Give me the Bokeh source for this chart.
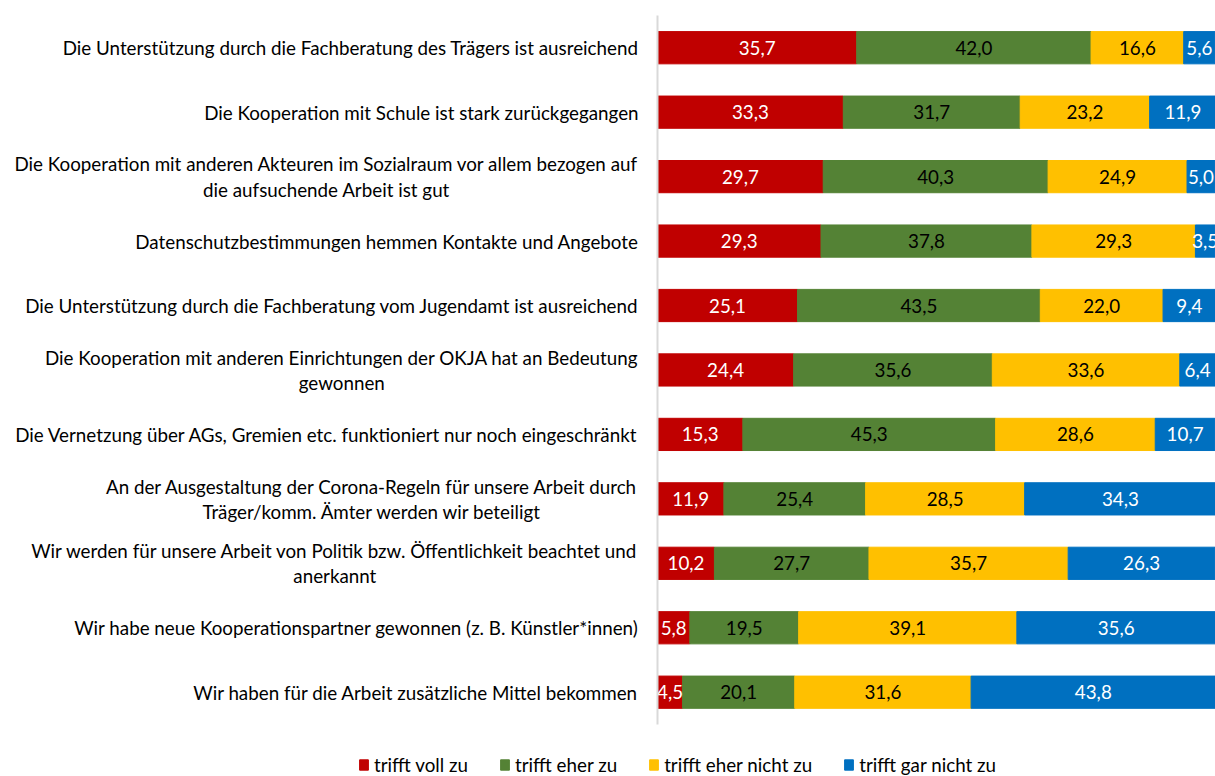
from bokeh.plotting import figure
from bokeh.models import ColumnDataSource, Range1d, Legend, LegendItem
from bokeh.core.properties import value
from bokeh.embed import file_html
from bokeh.resources import INLINE

categories = [
    "Die Unterstützung durch die Fachberatung des Trägers ist ausreichend",
    "Die Kooperation mit Schule ist stark zurückgegangen",
    "Die Kooperation mit anderen Akteuren im Sozialraum vor allem bezogen auf\ndie aufsuchende Arbeit ist gut",
    "Datenschutzbestimmungen hemmen Kontakte und Angebote",
    "Die Unterstützung durch die Fachberatung vom Jugendamt ist ausreichend",
    "Die Kooperation mit anderen Einrichtungen der OKJA hat an Bedeutung\ngewonnen",
    "Die Vernetzung über AGs, Gremien etc. funktioniert nur noch eingeschränkt",
    "An der Ausgestaltung der Corona-Regeln für unsere Arbeit durch\nTräger/komm. Ämter werden wir beteiligt",
    "Wir werden für unsere Arbeit von Politik bzw. Öffentlichkeit beachtet und\nanerkannt",
    "Wir habe neue Kooperationspartner gewonnen (z. B. Künstler*innen)",
    "Wir haben für die Arbeit zusätzliche Mittel bekommen",
]

series_names = ["trifft voll zu", "trifft eher zu", "trifft eher nicht zu", "trifft gar nicht zu"]

voll_zu = [35.7, 33.3, 29.7, 29.3, 25.1, 24.4, 15.3, 11.9, 10.2, 5.8, 4.5]
eher_zu = [42.0, 31.7, 40.3, 37.8, 43.5, 35.6, 45.3, 25.4, 27.7, 19.5, 20.1]
eher_nicht_zu = [16.6, 23.2, 24.9, 29.3, 22.0, 33.6, 28.6, 28.5, 35.7, 39.1, 31.6]
gar_nicht_zu = [5.6, 11.9, 5.0, 3.5, 9.4, 6.4, 10.7, 34.3, 26.3, 35.6, 43.8]

colors = ["#C00000", "#548235", "#FFC000", "#0070C0"]
label_colors = ["white", "black", "black", "white"]

FONT = "Lato"
FS = "18.8px"

n = len(categories)
pos = list(range(n))  # row index, 0 at top

keys = ["s0", "s1", "s2", "s3"]
data = {"pos": pos, "s0": voll_zu, "s1": eher_zu, "s2": eher_nicht_zu, "s3": gar_nicht_zu}
source = ColumnDataSource(data)

p = figure(
    width=1215, height=776,
    y_range=Range1d(n - 0.5 + 0.808, -0.5 - 0.2327),
    x_range=Range1d(-117.74, 100.0),
    x_axis_location=None, y_axis_location=None,
    output_backend="svg", toolbar_location=None, tools="",
    min_border=0,
)
p.outline_line_color = None
p.xgrid.visible = False
p.ygrid.visible = False

renderers = p.hbar_stack(keys, y="pos", height=0.5, color=colors, source=source)

# segment value labels
series_vals = [voll_zu, eher_zu, eher_nicht_zu, gar_nicht_zu]
cum = [0.0] * n
for si, vals in enumerate(series_vals):
    xs = [c + v / 2 for c, v in zip(cum, vals)]
    txt = [f"{v:.1f}".replace(".", ",") for v in vals]
    cum = [c + v for c, v in zip(cum, vals)]
    src = ColumnDataSource({"x": xs, "y": pos, "t": txt})
    p.text(x="x", y="y", text="t", source=src, text_align="center", text_baseline="middle",
           text_font=value(FONT), text_font_size=FS, text_color=label_colors[si])

# category labels: block anchored at its right edge, lines centred within the block
p.text(x=-3.4, y=pos, text=categories, anchor="center_right", text_align="center",
       text_baseline="middle", text_font=value(FONT), text_font_size=FS,
       text_color="black", text_line_height=1.1)

# vertical axis line over the category band
p.segment(x0=[0], y0=[-0.5], x1=[0], y1=[n - 0.5], line_color="#d9d9d9", line_width=2)

legend = Legend(
    items=[LegendItem(label=nm, renderers=[r]) for nm, r in zip(series_names, renderers)],
    orientation="horizontal", location=(358, 0),
    padding=0, margin=0, spacing=31, label_standoff=5,
    glyph_width=11, glyph_height=13,
    label_text_font=FONT, label_text_font_size=FS, label_text_color="black",
    border_line_color=None, background_fill_alpha=0,
)
p.add_layout(legend, "center")

open("out.html", "w").write(file_html(p, INLINE))
